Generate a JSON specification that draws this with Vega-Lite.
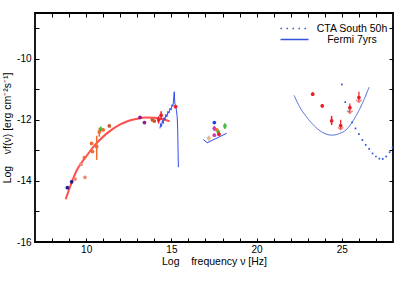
{
  "$schema": "https://vega.github.io/schema/vega-lite/v6.json",
  "width": 358,
  "height": 229,
  "autosize": {"type": "none"},
  "padding": {"left": 35, "top": 13, "right": 6, "bottom": 40},
  "config": {
    "view": {"stroke": "#000", "strokeWidth": 1.8},
    "font": "Liberation Sans",
    "axis": {
      "grid": false, "domain": false, "tickColor": "#000", "tickSize": -4, "tickWidth": 1,
      "labelColor": "#000", "labelFont": "Liberation Sans", "labelFontSize": 10,
      "titleColor": "#000", "titleFont": "Liberation Sans", "titleFontSize": 10.5, "titleFontWeight": "normal"
    },
    "legend": {"labelFont": "Liberation Sans", "labelFontSize": 10.5, "labelColor": "#000"}
  },
  "datasets": {
    "sync": [
      {"x": 8.8, "y": -14.6}, {"x": 9.05, "y": -14.2}, {"x": 9.45, "y": -13.65}, {"x": 10.0, "y": -13.2},
      {"x": 10.6, "y": -12.77}, {"x": 11.2, "y": -12.45}, {"x": 12.0, "y": -12.15}, {"x": 12.5, "y": -12.03},
      {"x": 13.0, "y": -11.96}, {"x": 13.5, "y": -11.92}, {"x": 14.0, "y": -11.93}, {"x": 14.5, "y": -11.98},
      {"x": 14.9, "y": -12.05}
    ],
    "blue": [
      {"seg": "opt", "x": 14.33, "y": -12.28}, {"seg": "opt", "x": 14.38, "y": -12.12}, {"seg": "opt", "x": 14.42, "y": -12.22},
      {"seg": "opt", "x": 14.47, "y": -12.02}, {"seg": "opt", "x": 14.52, "y": -12.12}, {"seg": "opt", "x": 14.57, "y": -11.92},
      {"seg": "opt", "x": 14.62, "y": -12.0}, {"seg": "opt", "x": 14.68, "y": -11.82}, {"seg": "opt", "x": 14.74, "y": -11.9},
      {"seg": "opt", "x": 14.8, "y": -11.72}, {"seg": "opt", "x": 14.86, "y": -11.78}, {"seg": "opt", "x": 14.92, "y": -11.62},
      {"seg": "opt", "x": 14.98, "y": -11.68}, {"seg": "opt", "x": 15.04, "y": -11.5}, {"seg": "opt", "x": 15.09, "y": -11.56},
      {"seg": "opt", "x": 15.13, "y": -11.35}, {"seg": "opt", "x": 15.17, "y": -11.08}, {"seg": "opt", "x": 15.2, "y": -11.45},
      {"seg": "opt", "x": 15.25, "y": -11.55}, {"seg": "opt", "x": 15.3, "y": -11.7}, {"seg": "opt", "x": 15.34, "y": -11.9},
      {"seg": "opt", "x": 15.37, "y": -12.3}, {"seg": "opt", "x": 15.39, "y": -12.9}, {"seg": "opt", "x": 15.41, "y": -13.55},
      {"seg": "xray", "x": 16.87, "y": -12.64}, {"seg": "xray", "x": 17.1, "y": -12.75}, {"seg": "xray", "x": 18.24, "y": -12.44}
    ],
    "fermi": [
      {"series": "Fermi 7yrs", "x": 22.2, "y": -11.2}, {"series": "Fermi 7yrs", "x": 22.55, "y": -11.6},
      {"series": "Fermi 7yrs", "x": 22.95, "y": -11.92}, {"series": "Fermi 7yrs", "x": 23.3, "y": -12.15},
      {"series": "Fermi 7yrs", "x": 23.9, "y": -12.42}, {"series": "Fermi 7yrs", "x": 24.4, "y": -12.5},
      {"series": "Fermi 7yrs", "x": 24.85, "y": -12.45}, {"series": "Fermi 7yrs", "x": 25.3, "y": -12.3},
      {"series": "Fermi 7yrs", "x": 25.6, "y": -12.08}, {"series": "Fermi 7yrs", "x": 25.9, "y": -11.8},
      {"series": "Fermi 7yrs", "x": 26.25, "y": -11.4}, {"series": "Fermi 7yrs", "x": 26.6, "y": -10.93}
    ],
    "cta": [
      {"x": 25.0, "y": -10.84}, {"x": 25.2, "y": -11.42}, {"x": 25.4, "y": -11.73}, {"x": 25.6, "y": -12.08},
      {"x": 25.8, "y": -12.28}, {"x": 26.0, "y": -12.47}, {"x": 26.2, "y": -12.66}, {"x": 26.4, "y": -12.82},
      {"x": 26.6, "y": -12.95}, {"x": 26.8, "y": -13.1}, {"x": 27.0, "y": -13.2}, {"x": 27.2, "y": -13.27},
      {"x": 27.4, "y": -13.28}, {"x": 27.6, "y": -13.2}, {"x": 27.8, "y": -13.06}, {"x": 27.98, "y": -12.9}
    ],
    "pts": [
      {"x": 8.9, "y": -14.22, "src": "navy"}, {"x": 9.15, "y": -14.03, "src": "navy"},
      {"x": 9.35, "y": -13.94, "src": "salmon"}, {"x": 9.93, "y": -13.88, "src": "salmon"},
      {"x": 9.7, "y": -13.46, "src": "salmon"}, {"x": 9.9, "y": -13.24, "src": "orange"},
      {"x": 10.32, "y": -12.77, "src": "orange"}, {"x": 10.37, "y": -13.04, "src": "orange"},
      {"x": 10.62, "y": -12.88, "lo": -13.31, "hi": -12.52, "src": "orange"},
      {"x": 10.77, "y": -12.4, "lo": -12.55, "hi": -12.26, "src": "orange"},
      {"x": 10.86, "y": -12.3, "lo": -12.38, "hi": -12.22, "src": "green"},
      {"x": 11.0, "y": -12.33, "src": "orange"}, {"x": 11.36, "y": -12.2, "src": "brown"},
      {"x": 13.16, "y": -11.92, "src": "purple"}, {"x": 13.42, "y": -12.09, "src": "purple"},
      {"x": 13.88, "y": -12.0, "src": "brown"}, {"x": 14.0, "y": -12.04, "src": "brown"},
      {"x": 14.25, "y": -12.0, "lo": -12.12, "hi": -11.88, "src": "red"},
      {"x": 14.4, "y": -11.85, "lo": -12.0, "hi": -11.72, "src": "red"},
      {"x": 15.25, "y": -11.57, "src": "red"},
      {"x": 17.2, "y": -12.6, "lo": -12.68, "hi": -12.52, "src": "tan"},
      {"x": 17.52, "y": -12.09, "src": "blue"},
      {"x": 17.52, "y": -12.28, "lo": -12.36, "hi": -12.2, "src": "magenta"},
      {"x": 17.52, "y": -12.5, "src": "magenta"},
      {"x": 17.67, "y": -12.33, "src": "orange"}, {"x": 17.75, "y": -12.39, "src": "green"},
      {"x": 17.79, "y": -12.47, "src": "red"},
      {"x": 18.14, "y": -12.2, "lo": -12.3, "hi": -12.11, "src": "green"},
      {"x": 23.29, "y": -11.16, "lo": -11.22, "hi": -11.1, "src": "red"},
      {"x": 23.85, "y": -11.54, "lo": -11.6, "hi": -11.48, "src": "red"},
      {"x": 24.4, "y": -12.03, "lo": -12.17, "hi": -11.87, "src": "red"},
      {"x": 24.93, "y": -12.19, "src": "red"}, {"x": 25.47, "y": -11.6, "src": "red"}, {"x": 26.0, "y": -11.27, "src": "red"}
    ],
    "ul": [
      {"x": 24.93, "top": -12.0, "bot": -12.33}, {"x": 25.47, "top": -11.46, "bot": -11.79}, {"x": 26.0, "top": -11.08, "bot": -11.43}
    ]
  },
  "resolve": {"axis": {"x": "independent", "y": "independent"}},
  "layer": [
    {
      "data": {"name": "sync"},
      "mark": {"type": "line", "color": "#ff4f4f", "strokeWidth": 2, "interpolate": "monotone", "clip": true},
      "encoding": {
        "x": {"field": "x", "type": "quantitative", "scale": {"domain": [7, 28], "nice": false, "zero": false},
          "axis": {"orient": "bottom", "values": [8,9,10,11,12,13,14,15,16,17,18,19,20,21,22,23,24,25,26,27],
            "labelExpr": "datum.value % 5 == 0 ? datum.label : ''", "labelPadding": 6, "titlePadding": 2,
            "title": "Log\u00a0\u00a0\u00a0 frequency ν [Hz]"}},
        "y": {"field": "y", "type": "quantitative", "scale": {"domain": [-16, -8.5], "nice": false, "zero": false},
          "axis": {"orient": "left", "values": [-16,-15,-14,-13,-12,-11,-10,-9],
            "labelExpr": "datum.value % 2 == 0 ? '' + datum.value : ''", "labelPadding": 8, "titlePadding": 4,
            "title": "Log\u00a0\u00a0\u00a0 νf(ν) [erg cm⁻²s⁻¹]"}}
      }
    },
    {
      "data": {"name": "blue"},
      "mark": {"type": "line", "color": "#2f4bf0", "strokeWidth": 1, "clip": true},
      "encoding": {
        "x": {"field": "x", "type": "quantitative", "scale": {"domain": [7, 28], "nice": false, "zero": false},
          "axis": {"orient": "top", "values": [8,9,10,11,12,13,14,15,16,17,18,19,20,21,22,23,24,25,26,27], "labels": false, "title": null}},
        "y": {"field": "y", "type": "quantitative", "scale": {"domain": [-16, -8.5], "nice": false, "zero": false},
          "axis": {"orient": "right", "values": [-16,-15,-14,-13,-12,-11,-10,-9], "labels": false, "title": null}},
        "detail": {"field": "seg"}
      }
    },
    {
      "data": {"name": "fermi"},
      "mark": {"type": "line", "color": "#4a68d8", "strokeWidth": 1, "interpolate": "monotone", "clip": true},
      "encoding": {
        "x": {"field": "x", "type": "quantitative", "scale": {"domain": [7, 28], "nice": false, "zero": false}, "axis": null},
        "y": {"field": "y", "type": "quantitative", "scale": {"domain": [-16, -8.5], "nice": false, "zero": false}, "axis": null},
        "strokeDash": {"field": "series", "type": "nominal",
          "scale": {"domain": ["CTA South 50h", "Fermi 7yrs"], "range": [[1.5, 4.5], [1, 0]]},
          "legend": {"title": null, "orient": "none", "legendX": 254, "legendY": 10, "symbolType": "M-3,0H3",
            "symbolSize": 87, "symbolStrokeWidth": 1.5, "symbolStrokeColor": "#3355dd", "labelAlign": "center",
            "labelOffset": 52, "rowPadding": -1}}
      }
    },
    {
      "data": {"name": "cta"},
      "mark": {"type": "square", "color": "#3355dd", "size": 3, "opacity": 1, "clip": true},
      "encoding": {
        "x": {"field": "x", "type": "quantitative", "scale": {"domain": [7, 28], "nice": false, "zero": false}, "axis": null},
        "y": {"field": "y", "type": "quantitative", "scale": {"domain": [-16, -8.5], "nice": false, "zero": false}, "axis": null}
      }
    },
    {
      "data": {"name": "pts"},
      "transform": [{"filter": "isValid(datum.lo)"}],
      "mark": {"type": "rule", "strokeWidth": 1.5},
      "encoding": {
        "x": {"field": "x", "type": "quantitative", "scale": {"domain": [7, 28], "nice": false, "zero": false}, "axis": null},
        "y": {"field": "lo", "type": "quantitative", "scale": {"domain": [-16, -8.5], "nice": false, "zero": false}, "axis": null},
        "y2": {"field": "hi"},
        "color": {"field": "src", "type": "nominal", "legend": null,
          "scale": {"domain": ["navy", "salmon", "orange", "brown", "red", "green", "purple", "blue", "magenta", "tan"],
            "range": ["#1c1c8c", "#f4877a", "#f26a2e", "#c8582a", "#e8202a", "#3cc03c", "#8c1c8c", "#2a3de8", "#d03cb0", "#e8b888"]}}
      }
    },
    {
      "data": {"name": "pts"},
      "mark": {"type": "circle", "size": 14, "opacity": 1},
      "encoding": {
        "x": {"field": "x", "type": "quantitative", "scale": {"domain": [7, 28], "nice": false, "zero": false}, "axis": null},
        "y": {"field": "y", "type": "quantitative", "scale": {"domain": [-16, -8.5], "nice": false, "zero": false}, "axis": null},
        "color": {"field": "src", "type": "nominal", "legend": null,
          "scale": {"domain": ["navy", "salmon", "orange", "brown", "red", "green", "purple", "blue", "magenta", "tan"],
            "range": ["#1c1c8c", "#f4877a", "#f26a2e", "#c8582a", "#e8202a", "#3cc03c", "#8c1c8c", "#2a3de8", "#d03cb0", "#e8b888"]}}
      }
    },
    {
      "data": {"name": "ul"},
      "mark": {"type": "rule", "color": "#e8202a", "strokeWidth": 1.2},
      "encoding": {
        "x": {"field": "x", "type": "quantitative", "scale": {"domain": [7, 28], "nice": false, "zero": false}, "axis": null},
        "y": {"field": "top", "type": "quantitative", "scale": {"domain": [-16, -8.5], "nice": false, "zero": false}, "axis": null},
        "y2": {"field": "bot"}
      }
    },
    {
      "data": {"name": "ul"},
      "mark": {"type": "point", "shape": "M-1,-1L0,0L1,-1", "size": 30, "filled": false, "color": "#f08080", "strokeWidth": 1.2, "opacity": 1},
      "encoding": {
        "x": {"field": "x", "type": "quantitative", "scale": {"domain": [7, 28], "nice": false, "zero": false}, "axis": null},
        "y": {"field": "bot", "type": "quantitative", "scale": {"domain": [-16, -8.5], "nice": false, "zero": false}, "axis": null}
      }
    }
  ]
}
